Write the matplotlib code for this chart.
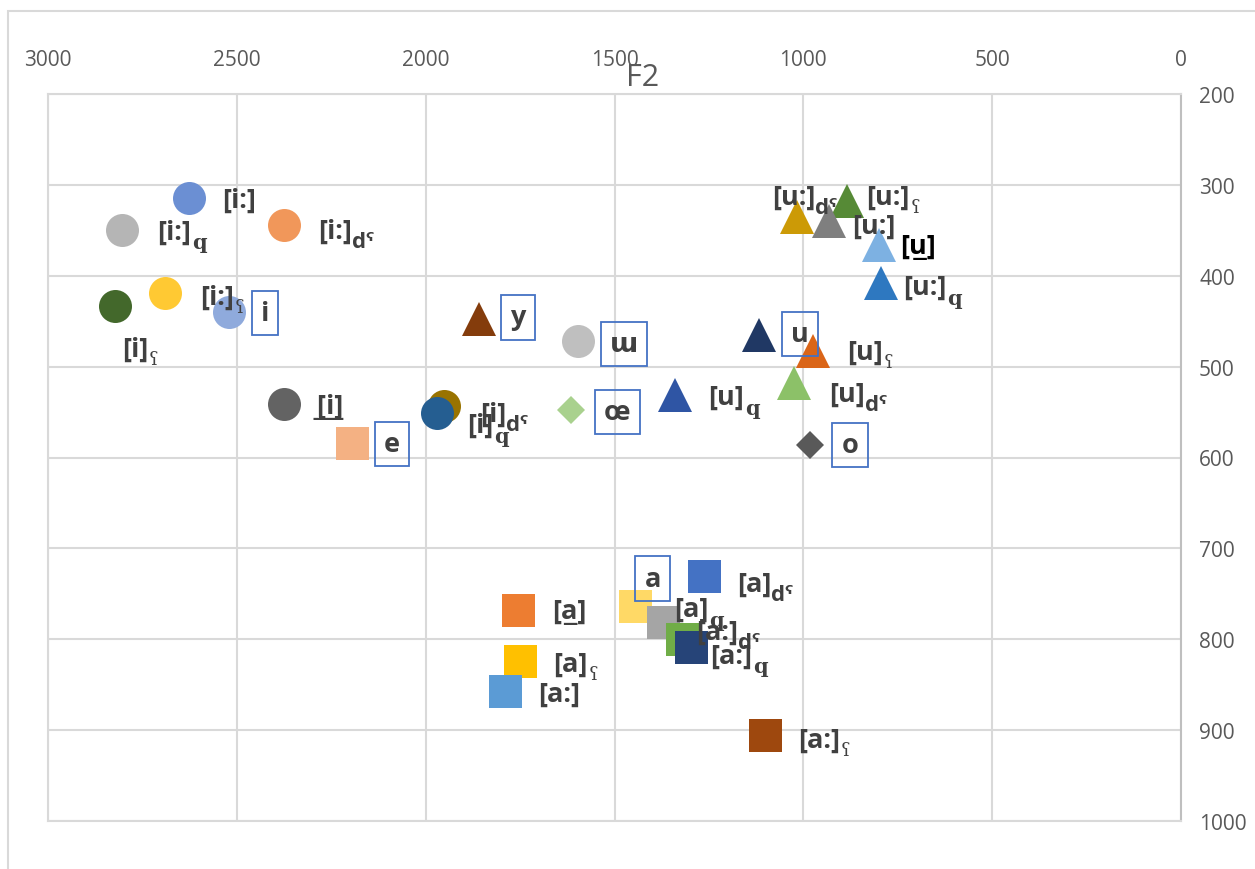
import matplotlib.pyplot as plt
from matplotlib.patches import Rectangle

plt.rcParams['font.family'] = ['Open Sans', 'DejaVu Sans']

U = '\u0332'  # combining low line

# vowel labels, subscripts and formant values (Hz)
vowels = ['[i:]', '[i:]', '[i:]', '[i]', '[i:]', 'i', '[' + U + 'i' + U + ']' + U, 'e',
          '[i]', '[i]', 'y', 'ɯ', 'œ', '[u]', 'u', '[u]', '[u]', 'o',
          '[u:]', '[u:]', '[u:]', '[u' + U + ']', '[u:]',
          '[a]', 'a', '[a' + U + ']', '[a]', '[a:]', '[a:]', '[a]', '[a:]', '[a:]']
subs = ['', 'q', 'dˤ', 'ʕ', 'ʕ', '', '', '',
        'dˤ', 'q', '', '', '', 'q', '', 'ʕ', 'dˤ', '',
        'dˤ', 'ʕ', '', '', 'q',
        'dˤ', '', '', 'q', 'dˤ', 'q', 'ʕ', '', 'ʕ']
f2 = [2627, 2804, 2375, 2823, 2690, 2521, 2375, 2195,
      1952, 1970, 1859, 1597, 1615, 1340, 1117, 975, 1025, 982,
      1017, 885, 932, 800, 795,
      1263, 1446, 1756, 1372, 1321, 1298, 1750, 1790, 1102]
f1 = [314, 350, 344, 433, 419, 440, 541, 584,
      543, 551, 448, 472, 548, 531, 465, 483, 518, 586,
      335, 318, 340, 366, 408,
      730, 763, 768, 781, 800, 809, 824, 857, 905]

shapes = ['o', 'o', 'o', 'o', 'o', 'o', 'o', 's',
          'o', 'o', '^', 'o', 'D', '^', '^', '^', '^', 'D',
          '^', '^', '^', '^', '^',
          's', 's', 's', 's', 's', 's', 's', 's', 's']
colors = ['#6B8FD3', '#B5B5B5', '#F1975A', '#43682B', '#FFC933', '#8FAADC', '#636363', '#F4B183',
          '#997300', '#255E91', '#843C0C', '#BFBFBF', '#A9D18E', '#2F55A4', '#203864', '#DA6518',
          '#8CC168', '#595959',
          '#CC9A06', '#568A36', '#7F7F7F', '#7DB1E2', '#2E78C0',
          '#4472C4', '#FFD966', '#ED7D31', '#A5A5A5', '#70AD47', '#264478', '#FFC000', '#5B9BD5',
          '#9E480E']
# label placement relative to the marker, in pixels (right, down)
offsets = [(33, 2), (35, 1), (34, 6), (7, 43), (35, 4), (36, 1), (33, 2), (40, 1),
           (36, 8), (30, 12), (39, -2), (46, 3), (46, 2), (33, 2), (41, -1), (34, 1),
           (35, 11), (40, 0),
           (-25, -20), (19, -4), (23, 5), (21, 1), (22, 4),
           (33, 8), (18, -27), (34, 1), (11, -13), (14, -7), (19, 8), (33, 3), (33, 3),
           (33, 5)]

px = 0.72  # points per pixel at 100 dpi
sizes = {'o': 33 * px, 's': 33 * px, '^': 34 * px, 'D': 20 * px}
fs = 19.5

fig = plt.figure(figsize=(12.55, 8.7), dpi=100)
ax = fig.add_axes([48 / 1255, 1 - 822 / 870, 1133 / 1255, 727 / 870])

for i in range(len(vowels)):
    ax.plot([f2[i]], [f1[i]], ls='none', marker=shapes[i], ms=sizes[shapes[i]],
            color=colors[i], mec=colors[i], mew=0, zorder=3)

for i in range(len(vowels)):
    dx, dy = offsets[i]
    lab = vowels[i]
    if not lab.startswith('['):
        ax.annotate(lab, (f2[i], f1[i]), xytext=(dx, -dy), textcoords='offset pixels',
                    ha='center', va='center', fontsize=fs, fontweight='bold',
                    color='#404040', zorder=5,
                    bbox=dict(boxstyle='square,pad=0.34', fc='none', ec='#4472C4', lw=1.3))
        continue
    col = 'black' if lab.startswith('[u' + U) else '#404040'
    t = ax.annotate(lab, (f2[i], f1[i]), xytext=(dx, -dy), textcoords='offset pixels',
                    ha='left', va='center', fontsize=fs, fontweight='bold',
                    color=col, zorder=5)
    s = subs[i]
    if s == 'q':
        ax.annotate(s, (1, 0), xycoords=t, xytext=(1, -8), textcoords='offset pixels',
                    ha='left', va='bottom', fontsize=15, fontweight='bold',
                    family='DejaVu Serif', color='#404040', zorder=5)
    elif s == 'ʕ':
        ax.annotate(s, (1, 0), xycoords=t, xytext=(1, -6), textcoords='offset pixels',
                    ha='left', va='bottom', fontsize=13, family='DejaVu Serif',
                    color='#404040', zorder=5)
    elif s:
        ax.annotate(s, (1, 0), xycoords=t, xytext=(0, -8), textcoords='offset pixels',
                    ha='left', va='bottom', fontsize=16, fontweight='bold',
                    color='#404040', zorder=5)

ax.set_xlim(3000, 0)
ax.set_ylim(1000, 200)
ax.set_xticks(range(3000, -1, -500))
ax.set_yticks(range(200, 1001, 100))
ax.xaxis.tick_top()
ax.yaxis.tick_right()
ax.tick_params(length=0, labelsize=15, labelcolor='#595959')
ax.tick_params(axis='x', pad=17)
ax.tick_params(axis='y', pad=13)
ax.grid(color='#D9D9D9', lw=1.5, zorder=0)
ax.set_axisbelow(True)
for side in ['left', 'top', 'bottom']:
    ax.spines[side].set_color('#D9D9D9')
    ax.spines[side].set_linewidth(1.5)
ax.spines['right'].set_color('#BFBFBF')
ax.spines['right'].set_linewidth(1.5)

ax.text(0.525, 1.0 + 2 / 727, 'F2', transform=ax.transAxes, ha='center', va='bottom',
        fontsize=22, color='#595959')

# outer chart frame
fig.add_artist(Rectangle((8 / 1255, -0.1), 1.2, 1.1 - 12 / 870, transform=fig.transFigure,
                         fill=False, ec='#D9D9D9', lw=1.5))

fig.savefig('out.png', dpi=100)
